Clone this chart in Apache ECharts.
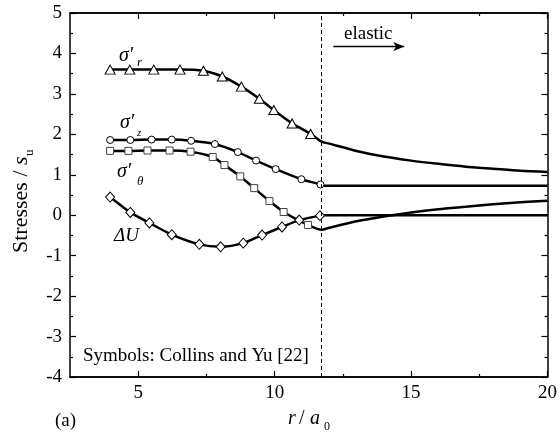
<!DOCTYPE html>
<html>
<head>
<meta charset="utf-8">
<script src="https://cdn.jsdelivr.net/npm/echarts@6/dist/echarts.min.js"></script>
<style>html,body{margin:0;padding:0;background:#fff}#c{width:560px;height:437px}</style>
</head>
<body>
<div id="c"></div>
<script>
const FONT = '"Liberation Serif","Times New Roman",serif';
const xMajorTicks = [5, 10, 15, 20];
const xMinorTicks = [7.5, 12.5, 17.5];
const xMin = 2.5, xMax = 20;
const yMin = -4, yMax = 5, yStep = 1;
const elasticBoundary = 11.72;
const arrowFrom = [12.15, 4.17];
const arrowTo = [14.75, 4.17];

// sigma'_r : Collins and Yu symbols + present solution curve
const sigmaRSymbols = [[3.97,3.60],[4.69,3.60],[5.57,3.60],[6.53,3.60],[7.39,3.57],[8.08,3.43],[8.78,3.18],[9.44,2.88],[9.97,2.60],[10.64,2.27],[11.32,2.01]];
const sigmaRElastic = [[11.72,1.82],[12,1.77],[13,1.59],[14,1.45],[15,1.35],[16,1.27],[17,1.20],[18,1.15],[19,1.10],[20,1.07]];
// sigma'_z
const sigmaZSymbols = [[3.97,1.86],[4.71,1.86],[5.49,1.87],[6.23,1.87],[6.94,1.84],[7.81,1.76],[8.65,1.56],[9.32,1.35],[10.04,1.14],[10.98,0.89],[11.68,0.76]];
const sigmaZElastic = [[11.72,0.73],[20,0.73]];
// sigma'_theta
const sigmaTSymbols = [[3.97,1.59],[4.64,1.59],[5.34,1.60],[6.15,1.60],[6.92,1.57],[7.73,1.44],[8.16,1.24],[8.74,0.96],[9.25,0.67],[9.81,0.35],[10.33,0.08],[11.22,-0.24]];
const sigmaTElastic = [[11.72,-0.36],[12,-0.31],[13,-0.15],[14,-0.03],[15,0.07],[16,0.15],[17,0.21],[18,0.27],[19,0.32],[20,0.36]];
// Delta U
const deltaUSymbols = [[3.97,0.45],[4.71,0.07],[5.41,-0.19],[6.23,-0.48],[7.24,-0.72],[8.02,-0.78],[8.85,-0.69],[9.54,-0.49],[10.27,-0.29],[10.90,-0.12],[11.66,-0.01]];
const deltaUElastic = [[11.72,0],[20,0]];

const chart = echarts.init(document.getElementById('c'), null, {renderer: 'canvas'});

function xAxisDef(pos, ticks, len, labels) {
  return {
    type: 'value', min: xMin, max: xMax, position: pos,
    axisLine: {show: true, onZero: false, lineStyle: {color: '#000', width: 1.5}},
    axisTick: {show: true, inside: true, length: len, customValues: ticks, lineStyle: {color: '#000', width: 1.2}},
    axisLabel: labels ? {show: true, customValues: ticks, color: '#000', fontFamily: FONT, fontSize: 19, margin: 7} : {show: false},
    splitLine: {show: false}
  };
}
function yAxisDef(pos, labels) {
  return {
    type: 'value', min: yMin, max: yMax, interval: yStep, position: pos,
    axisLine: {show: true, onZero: false, lineStyle: {color: '#000', width: 1.5}},
    axisTick: {show: true, inside: true, length: 6, lineStyle: {color: '#000', width: 1.2}},
    minorTick: {show: true, splitNumber: 2, length: 3, lineStyle: {color: '#000', width: 1.2}},
    axisLabel: labels ? {show: true, color: '#000', fontFamily: FONT, fontSize: 19, margin: 8} : {show: false},
    splitLine: {show: false}, minorSplitLine: {show: false}
  };
}

const lineStyle = {color: '#000', width: 2.5};
function curve(data, extra) {
  return Object.assign({
    type: 'line', data: data, symbol: 'none', smooth: 0.25,
    lineStyle: lineStyle, z: 2, silent: true, animation: false
  }, extra || {});
}
function marks(data, symbol, size, border) {
  return {
    type: 'scatter', data: data, symbol: symbol, symbolSize: size,
    itemStyle: {color: '#fff', borderColor: border || '#000', borderWidth: 1, opacity: 1},
    z: 4, silent: true, animation: false
  };
}

const t = (x, y, text, font, extra) => Object.assign({
  type: 'text', x: x, y: y, silent: true,
  style: {text: text, font: font, fill: '#000', align: 'left', verticalAlign: 'middle'}
}, extra || {});

chart.setOption({
  animation: false,
  backgroundColor: '#fff',
  grid: {left: 70, right: 8, top: 13, bottom: 60, containLabel: false},
  xAxis: [
    xAxisDef('bottom', xMajorTicks, 6, true),
    xAxisDef('top', xMajorTicks, 6, false),
    xAxisDef('bottom', xMinorTicks, 3, false),
    xAxisDef('top', xMinorTicks, 3, false)
  ],
  yAxis: [yAxisDef('left', true), yAxisDef('right', false)],
  series: [
    curve(sigmaRSymbols.concat(sigmaRElastic), {
      markLine: {
        silent: true, animation: false, label: {show: false},
        data: [
          [{xAxis: elasticBoundary, yAxis: yMin, symbol: 'none', lineStyle: {color: '#000', width: 1, type: [4, 3]}},
           {xAxis: elasticBoundary, yAxis: yMax, symbol: 'none'}],
          [{coord: arrowFrom, symbol: 'none', lineStyle: {color: '#000', width: 1.3, type: 'solid'}},
           {coord: arrowTo, symbol: 'arrow', symbolSize: [7, 11]}]
        ]
      }
    }),
    curve(sigmaZSymbols.concat(sigmaZElastic)),
    curve(sigmaTSymbols.concat(sigmaTElastic)),
    curve(deltaUSymbols.concat(deltaUElastic)),
    marks(sigmaRSymbols, 'triangle', [10, 9]),
    marks(sigmaZSymbols, 'circle', 7),
    marks(sigmaTSymbols, 'rect', 7, '#444'),
    marks(deltaUSymbols, 'diamond', [9, 10])
  ],
  graphic: [
    t(119, 56, 'σ′', 'italic 20px ' + FONT),
    t(137, 63, 'r', 'italic 13px ' + FONT),
    t(120, 123, 'σ′', 'italic 20px ' + FONT),
    t(137, 133, 'z', 'italic 11px ' + FONT),
    t(117, 172, 'σ′', 'italic 20px ' + FONT),
    t(137, 182, 'θ', 'italic 13px ' + FONT),
    t(114, 236, 'ΔU', 'italic 19px ' + FONT),
    t(344, 34, 'elastic', '19px ' + FONT),
    t(83, 356, 'Symbols: Collins and Yu [22]', '19px ' + FONT),
    t(55, 421, '(a)', '19px ' + FONT),
    t(288, 419, 'r', 'italic 20px ' + FONT),
    t(299, 419, '/', '20px ' + FONT),
    t(310, 419, 'a', 'italic 20px ' + FONT),
    t(324, 427, '0', '12px ' + FONT),
    t(21.5, 253, 'Stresses / ', '22px ' + FONT, {rotation: Math.PI / 2}),
    t(21.5, 165, 's', 'italic 22px ' + FONT, {rotation: Math.PI / 2}),
    t(29.5, 156, 'u', '13px ' + FONT, {rotation: Math.PI / 2})
  ]
});
</script>
</body>
</html>
